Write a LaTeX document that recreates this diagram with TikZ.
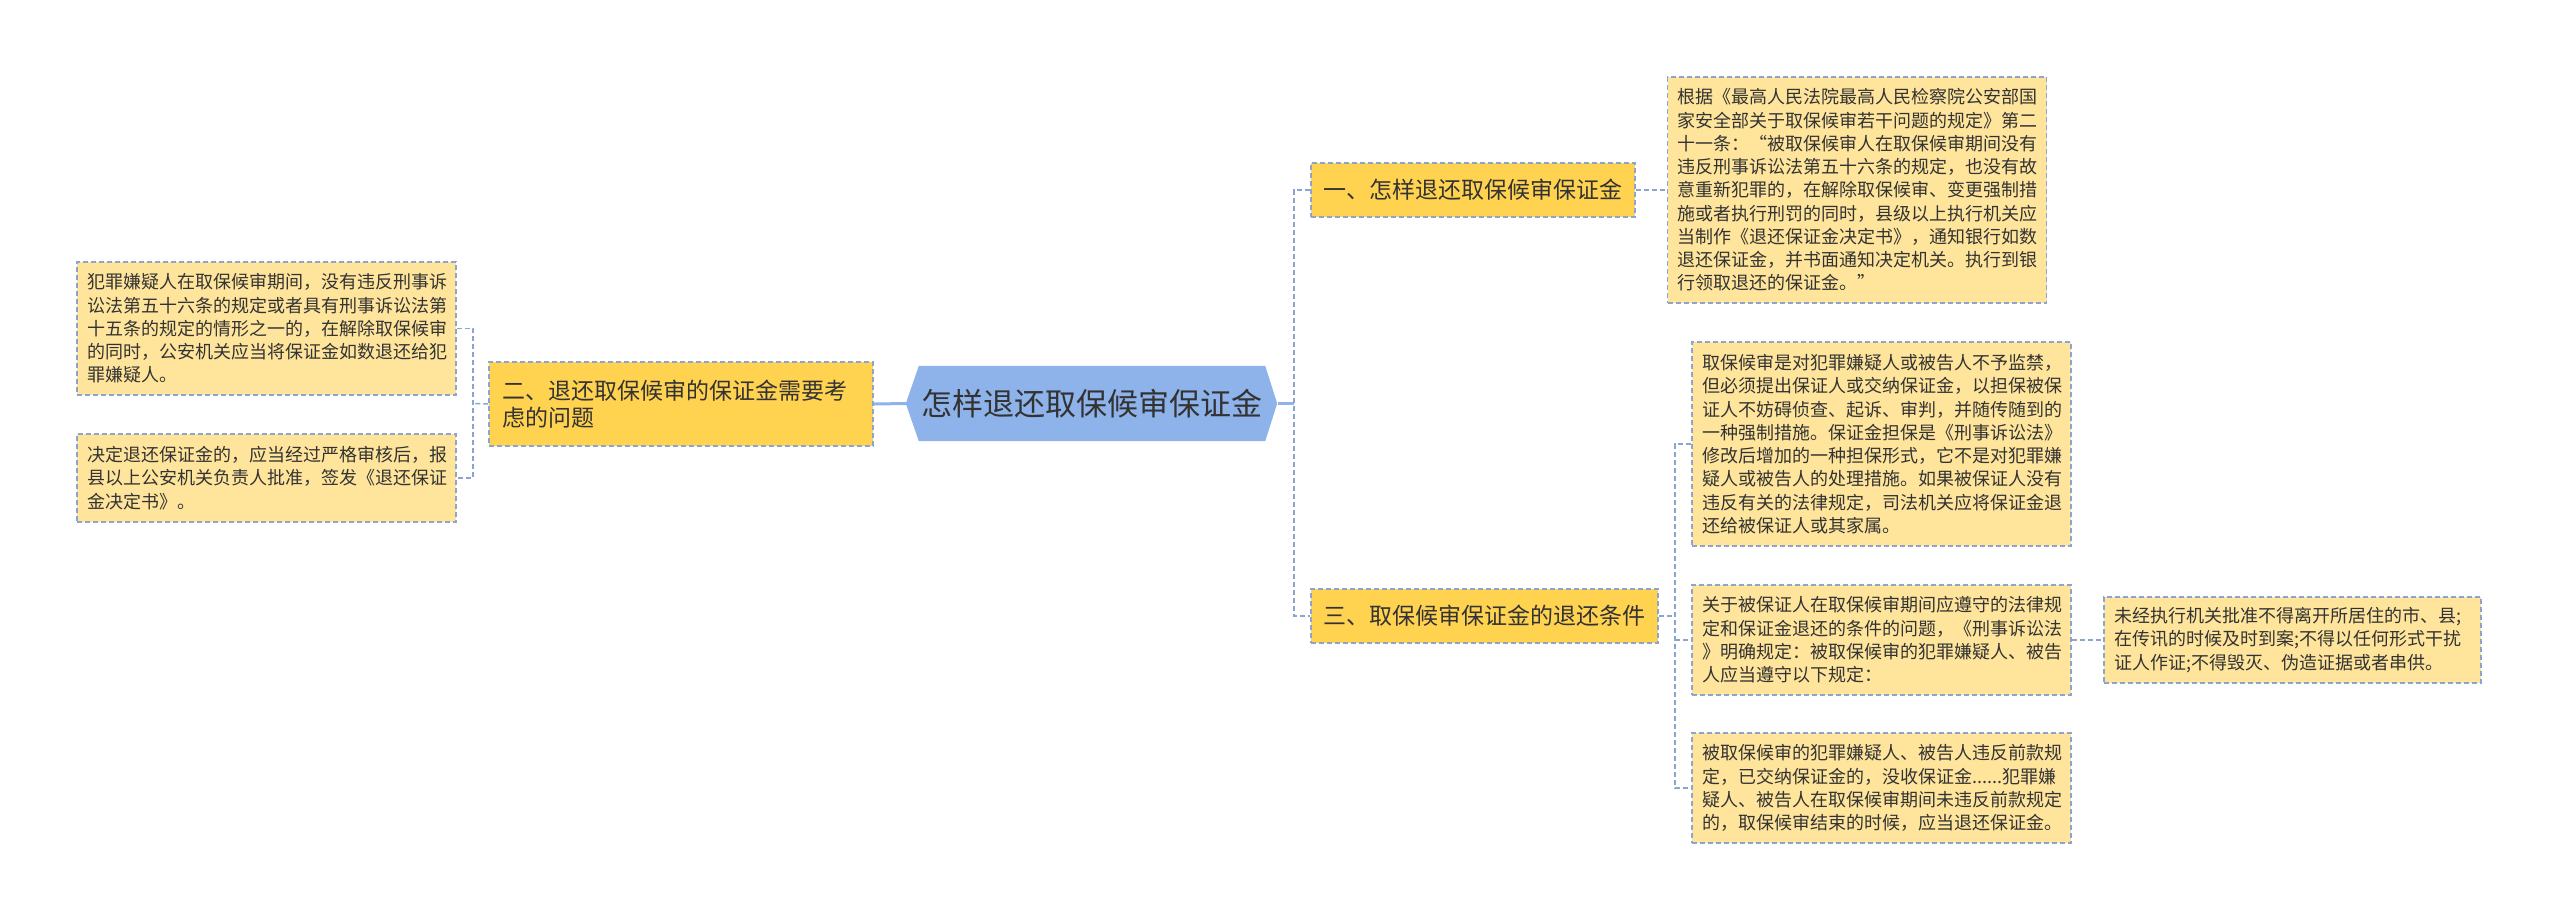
\documentclass[tikz,border=0pt]{standalone}
\usepackage{fontspec}
\setmainfont{Noto Sans CJK SC}
\usetikzlibrary{backgrounds}
\definecolor{rootblue}{HTML}{8EB3EA}
\definecolor{branchgold}{HTML}{FFD250}
\definecolor{leafyellow}{HTML}{FFE59C}
\definecolor{edgeblue}{HTML}{8CA4D2}
\definecolor{inkgray}{HTML}{333333}

\begin{document}
\begin{tikzpicture}[x=1pt,y=-1pt,
    box/.style={draw=edgeblue,line width=1.5pt,dash pattern=on 5pt off 3pt,text=inkgray},
    leaf/.style={box,fill=leafyellow,font=\fontsize{18}{23.25}\selectfont,
        text width=359pt,align=left,inner xsep=10pt,inner ysep=0pt,minimum width=379pt},
    branch/.style={box,fill=branchgold,font=\fontsize{23}{27}\selectfont,
        inner xsep=11pt,minimum height=54pt},
    link/.style={draw=edgeblue,line width=1.5pt,dash pattern=on 5pt off 3pt},
    trunk/.style={draw=rootblue,line width=3pt}]
    \useasboundingbox (0,0) rectangle (2560,922);

    % centre
    \node[font=\fontsize{31}{36}\selectfont,text=inkgray,minimum width=346pt,minimum height=75pt,inner sep=0pt] (root) at (1092,403.5) {怎样退还取保候审保证金};
    \begin{scope}[on background layer]
        \fill[rootblue] (root.north west) -- (root.north east) -- ([xshift=12pt]root.east) -- (root.south east) -- (root.south west) -- ([xshift=-13pt]root.west) -- cycle;
    \end{scope}
    \coordinate (rootR) at (1278,403.5);
    \coordinate (rootL) at (906,403.5);

    % branches
    \node[branch,minimum width=324pt] (b1) at (1473,190) {一、怎样退还取保候审保证金};
    \node[branch,minimum width=347pt] (b3) at (1484.5,616) {三、取保候审保证金的退还条件};
    \node[box,fill=branchgold,font=\fontsize{23}{27}\selectfont,text width=358pt,align=left,
        inner xsep=13pt,inner ysep=0pt,minimum width=384pt,minimum height=84pt] (b2) at (681,404)
        {二、退还取保候审的保证金需要考\\虑的问题};

    % leaves, right
    \node[leaf,minimum height=226pt] (l1) at (1857,190) {根据《最高人民法院最高人民检察院公安部国\\家安全部关于取保候审若干问题的规定》第二\\十一条：“被取保候审人在取保候审期间没有\\违反刑事诉讼法第五十六条的规定，也没有故\\意重新犯罪的，在解除取保候审、变更强制措\\施或者执行刑罚的同时，县级以上执行机关应\\当制作《退还保证金决定书》，通知银行如数\\退还保证金，并书面通知决定机关。执行到银\\行领取退还的保证金。”};
    \node[leaf,minimum height=204pt] (l3a) at (1881.5,444) {取保候审是对犯罪嫌疑人或被告人不予监禁，\\但必须提出保证人或交纳保证金，以担保被保\\证人不妨碍侦查、起诉、审判，并随传随到的\\一种强制措施。保证金担保是《刑事诉讼法》\\修改后增加的一种担保形式，它不是对犯罪嫌\\疑人或被告人的处理措施。如果被保证人没有\\违反有关的法律规定，司法机关应将保证金退\\还给被保证人或其家属。};
    \node[leaf,minimum height=110pt] (l3b) at (1881.5,640) {关于被保证人在取保候审期间应遵守的法律规\\定和保证金退还的条件的问题，《刑事诉讼法\\》明确规定：被取保候审的犯罪嫌疑人、被告\\人应当遵守以下规定：};
    \node[leaf,minimum height=86pt,minimum width=377pt,text width=357pt] (l3c) at (2292.5,640) {未经执行机关批准不得离开所居住的市、县;\\在传讯的时候及时到案;不得以任何形式干扰\\证人作证;不得毁灭、伪造证据或者串供。};
    \node[leaf,minimum height=110pt] (l3d) at (1881.5,788) {被取保候审的犯罪嫌疑人、被告人违反前款规\\定，已交纳保证金的，没收保证金......犯罪嫌\\疑人、被告人在取保候审期间未违反前款规定\\的，取保候审结束的时候，应当退还保证金。};

    % leaves, left
    \node[leaf,minimum height=133pt] (m1) at (266.5,328.5) {犯罪嫌疑人在取保候审期间，没有违反刑事诉\\讼法第五十六条的规定或者具有刑事诉讼法第\\十五条的规定的情形之一的，在解除取保候审\\的同时，公安机关应当将保证金如数退还给犯\\罪嫌疑人。};
    \node[leaf,minimum height=88pt] (m2) at (266.5,478) {决定退还保证金的，应当经过严格审核后，报\\县以上公安机关负责人批准，签发《退还保证\\金决定书》。};

    % connectors
    \coordinate (rjoin) at (1294,403.5);
    \coordinate (ljoin) at (473,403.5);
    \coordinate (tjoin) at (1675,616);
    \draw[trunk] (rootR) -- (rjoin);
    \draw[trunk] (rootL) -- (b2.east);
    \draw[link] (b1.west) -| (rjoin) |- (b3.west);
    \draw[link] (b1.east) -- (l1.west);
    \draw[link] (b3.east) -- (tjoin);
    \draw[link] (l3a.west) -| (tjoin) |- (l3d.west);
    \draw[link] (tjoin |- l3b.west) -- (l3b.west);
    \draw[link] (l3b.east) -- (l3c.west);
    \draw[link] (b2.west) -- (ljoin);
    \draw[link] (m1.east) -| (ljoin) |- (m2.east);
\end{tikzpicture}
\end{document}
